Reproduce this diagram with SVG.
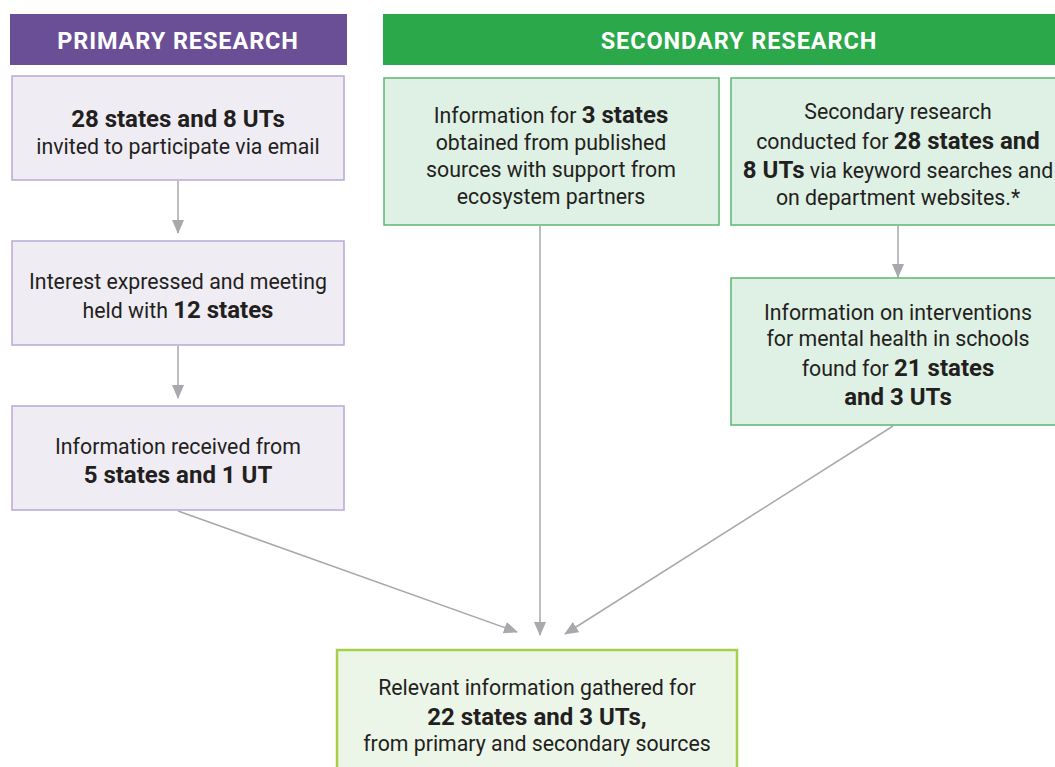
<svg xmlns="http://www.w3.org/2000/svg" width="1055" height="767" viewBox="0 0 1055 767">
<style>
text{font-family:Roboto,"Liberation Sans",sans-serif;font-size:21.3px;fill:#231f20;text-anchor:middle}
.b{font-weight:bold;font-size:24px}
.h{font-weight:bold;fill:#fff;font-size:23.5px;letter-spacing:0.9px}
.p{fill:#efecf4;stroke:#b9a9d6;stroke-width:1.5}
.s{fill:#dff0e4;stroke:#5cb870;stroke-width:1.5}
.f{fill:#ebf5e8;stroke:#a6d04a;stroke-width:2.5}
.c{stroke:#a7a9ac;stroke-width:1.5;fill:none;marker-end:url(#ah)}
</style>
<defs>
<marker id="ah" viewBox="0 0 14 12" refX="13" refY="6" markerWidth="14" markerHeight="12" markerUnits="userSpaceOnUse" orient="auto">
<path d="M0,0 L14,6 L0,12 z" fill="#a7a9ac"/>
</marker>
</defs>
<rect width="1055" height="767" fill="#fff"/>
<g id="primary-header">
<rect x="10" y="14" width="337" height="51" fill="#6b4f96"/>
<text class="h" x="178" y="49">PRIMARY RESEARCH</text>
</g>
<g id="secondary-header">
<rect x="383" y="14" width="672" height="51" fill="#2aa84a"/>
<text class="h" x="739" y="49">SECONDARY RESEARCH</text>
</g>
<g id="connectors">
<line class="c" x1="178" y1="181" x2="178" y2="233"/>
<line class="c" x1="178" y1="346" x2="178" y2="398"/>
<line class="c" x1="898" y1="226" x2="898" y2="277"/>
<line class="c" x1="178" y1="511" x2="517" y2="632"/>
<line class="c" x1="540" y1="226" x2="540" y2="635"/>
<line class="c" x1="893" y1="426" x2="565" y2="634"/>
</g>
<g id="p1">
<rect class="p" x="12" y="76" width="332" height="104"/>
<text x="178" y="127"><tspan class="b">28 states and 8 UTs</tspan></text>
<text x="178" y="154">invited to participate via email</text>
</g>
<g id="p2">
<rect class="p" x="12" y="241" width="332" height="104"/>
<text x="178" y="289">Interest expressed and meeting</text>
<text x="178" y="318">held with <tspan class="b">12 states</tspan></text>
</g>
<g id="p3">
<rect class="p" x="12" y="406" width="332" height="104"/>
<text x="178" y="454">Information received from</text>
<text x="178" y="483"><tspan class="b">5 states and 1 UT</tspan></text>
</g>
<g id="s1">
<rect class="s" x="384" y="78" width="335" height="147"/>
<text x="551" y="123">Information for <tspan class="b">3 states</tspan></text>
<text x="551" y="150">obtained from published</text>
<text x="551" y="177">sources with support from</text>
<text x="551" y="204">ecosystem partners</text>
</g>
<g id="s2">
<rect class="s" x="731" y="78" width="330" height="147"/>
<text x="898" y="119">Secondary research</text>
<text x="898" y="149">conducted for <tspan class="b">28 states and</tspan></text>
<text x="898" y="178"><tspan class="b">8 UTs</tspan> via keyword searches and</text>
<text x="898" y="205">on department websites.*</text>
</g>
<g id="s3">
<rect class="s" x="731" y="278" width="330" height="147"/>
<text x="898" y="320">Information on interventions</text>
<text x="898" y="346">for mental health in schools</text>
<text x="898" y="376">found for <tspan class="b">21 states</tspan></text>
<text x="898" y="405"><tspan class="b">and 3 UTs</tspan></text>
</g>
<g id="final">
<rect class="f" x="337" y="650" width="400" height="130"/>
<text x="537" y="695">Relevant information gathered for</text>
<text x="537" y="725"><tspan class="b">22 states and 3 UTs,</tspan></text>
<text x="537" y="751">from primary and secondary sources</text>
</g>
</svg>
